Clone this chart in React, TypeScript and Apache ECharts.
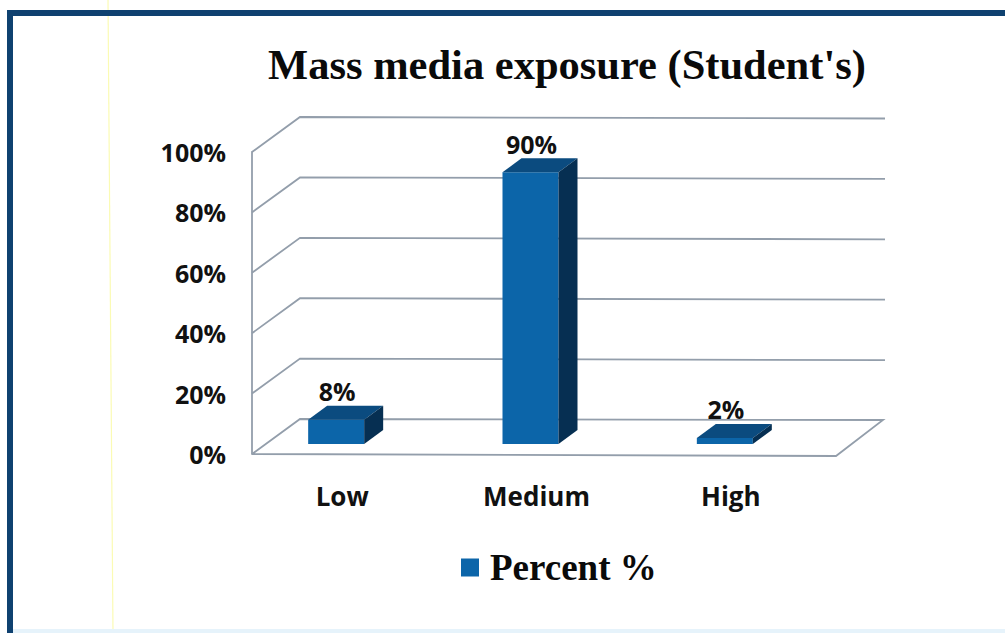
import React, { useEffect, useRef } from "react";
import * as echarts from "echarts";

const categories = ["Low", "Medium", "High"];
const percentValues = [8, 90, 2];
const yTicks = [0, 20, 40, 60, 80, 100];
const seriesName = "Percent %";
const chartTitle = "Mass media exposure (Student's)";

const LABEL_FONT = "'Open Sans', sans-serif";
const TITLE_FONT = "'Liberation Serif', serif";
const GRID_COLOR = "#939eab";
const FRAME_COLOR = "#0f4170";

// Oblique projection of the chart box: how far the back wall sits from the front plane.
const WALL_DX = 48;
const WALL_DY = -35;
// Where a bar's front face sits relative to its category centre and the front floor edge.
const BAR_SHIFT_X = -13;
const BAR_SHIFT_Y = -10;
const BAR_WIDTH = 56;
const BAR_DEPTH_X = 19;
const BAR_DEPTH_Y = -14;

function renderWalls(params: any, api: any) {
  const { x, width } = params.coordSys;
  const value = api.value(0);
  const y = api.coord([0, value])[1];
  const right = x + width;
  const lineStyle = { fill: "none", stroke: GRID_COLOR, lineWidth: 1.8 };
  if (value === 0) {
    return {
      type: "polyline",
      shape: {
        points: [
          [x, y],
          [x + WALL_DX, y + WALL_DY],
          [right + WALL_DX, y + WALL_DY + 1],
          [right + 1, y + 2],
          [x, y],
        ],
      },
      style: lineStyle,
    };
  }
  return {
    type: "polyline",
    shape: {
      points: [
        [x, y],
        [x + WALL_DX, y + WALL_DY],
        [right + WALL_DX + 2, y + WALL_DY + 1.5],
      ],
    },
    style: lineStyle,
  };
}

function renderBar(_params: any, api: any) {
  const index = api.value(0);
  const value = api.value(1);
  const [cx, top0] = api.coord([index, value]);
  const base0 = api.coord([index, 0])[1];
  const left = cx + BAR_SHIFT_X - BAR_WIDTH / 2;
  const right = left + BAR_WIDTH;
  const top = top0 + BAR_SHIFT_Y;
  const base = base0 + BAR_SHIFT_Y;
  const dx = BAR_DEPTH_X;
  const dy = BAR_DEPTH_Y;
  return {
    type: "group",
    children: [
      {
        type: "rect",
        shape: { x: left, y: top, width: BAR_WIDTH, height: base - top },
        style: { fill: "#0c65a9" },
      },
      {
        type: "polygon",
        shape: {
          points: [
            [left, top],
            [left + dx, top + dy],
            [right + dx, top + dy],
            [right, top],
          ],
        },
        style: { fill: "#0b4b7f" },
      },
      {
        type: "polygon",
        shape: {
          points: [
            [right, top],
            [right + dx, top + dy],
            [right + dx, base + dy],
            [right, base],
          ],
        },
        style: { fill: "#062f52" },
      },
      {
        type: "text",
        style: {
          x: left + BAR_WIDTH / 2 + 1,
          y: top + dy - 2,
          text: `${value}%`,
          align: "center",
          verticalAlign: "bottom",
          fill: "#111111",
          font: `700 25px ${LABEL_FONT}`,
        },
      },
    ],
  };
}

export default function App() {
  const ref = useRef<HTMLDivElement>(null);

  useEffect(() => {
    document.body.style.margin = "0";
    document.body.style.background = "#ffffff";
    const chart = echarts.init(ref.current!, undefined, { renderer: "svg" });
    chart.setOption({
      animation: false,
      backgroundColor: "#ffffff",
      title: {
        text: chartTitle,
        left: 562,
        top: 38,
        textAlign: "center",
        textStyle: {
          fontFamily: TITLE_FONT,
          fontWeight: "bold",
          fontSize: 42.5,
          color: "#0a0a0a",
        },
      },
      legend: {
        data: [seriesName],
        left: 456,
        top: 544,
        icon: "rect",
        itemWidth: 18,
        itemHeight: 18,
        textStyle: {
          fontFamily: TITLE_FONT,
          fontWeight: "bold",
          fontSize: 37,
          color: "#0a0a0a",
          padding: [0, 0, 0, 6],
        },
      },
      grid: { left: 252, top: 152, width: 583, height: 302, containLabel: false },
      xAxis: {
        type: "category",
        data: categories,
        axisLine: { show: false },
        axisTick: { show: false },
        axisLabel: {
          margin: 29,
          padding: [0, 14, 0, 0],
          fontFamily: LABEL_FONT,
          fontWeight: 700,
          fontSize: 26,
          color: "#111111",
        },
      },
      yAxis: {
        type: "value",
        min: 0,
        max: 100,
        interval: 20,
        axisLine: { show: true, lineStyle: { color: GRID_COLOR, width: 1.8 } },
        axisTick: { show: false },
        splitLine: { show: false },
        axisLabel: {
          margin: 26,
          formatter: "{value}%",
          fontFamily: LABEL_FONT,
          fontWeight: 700,
          fontSize: 25,
          color: "#111111",
        },
      },
      series: [
        {
          type: "custom",
          name: "walls",
          silent: true,
          clip: false,
          z: 1,
          renderItem: renderWalls,
          encode: { y: 0 },
          data: yTicks.map((t) => [t]),
        },
        {
          type: "custom",
          name: seriesName,
          clip: false,
          z: 3,
          itemStyle: { color: "#0c65a9" },
          renderItem: renderBar,
          encode: { x: 0, y: 1 },
          data: percentValues.map((v, i) => [i, v]),
        },
      ],
      graphic: [
        {
          type: "line",
          z: 0,
          shape: { x1: 108, y1: 0, x2: 113, y2: 633 },
          style: { stroke: "#fbfbb4", lineWidth: 1.2 },
        },
        { type: "rect", z: 5, shape: { x: 7, y: 10, width: 998, height: 6 }, style: { fill: FRAME_COLOR } },
        { type: "rect", z: 5, shape: { x: 7, y: 10, width: 6, height: 623 }, style: { fill: FRAME_COLOR } },
        { type: "rect", z: 0, shape: { x: 13, y: 629, width: 992, height: 4 }, style: { fill: "#e6f3fb" } },
      ],
    });
    return () => chart.dispose();
  }, []);

  return (
    <div
      ref={ref}
      style={{ position: "fixed", left: 0, top: 0, width: 1005, height: 633 }}
    />
  );
}
